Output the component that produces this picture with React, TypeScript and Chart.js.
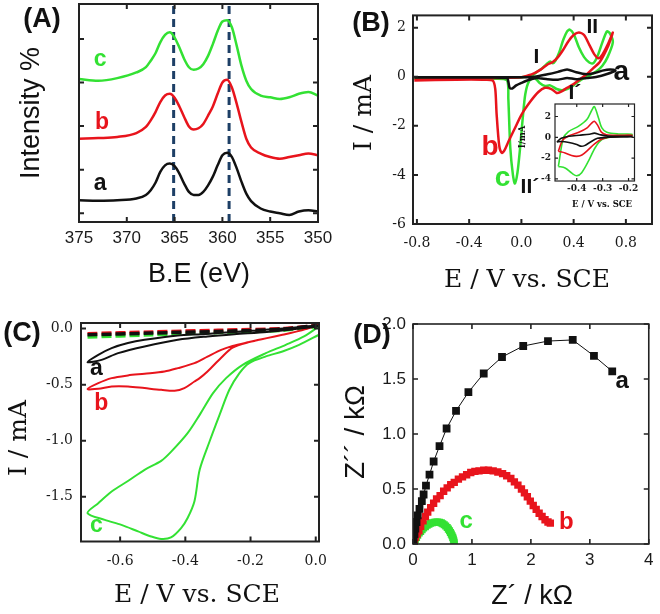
import React, { useEffect, useRef } from "react";
import { Chart, registerables } from "chart.js";
Chart.register(...registerables);

const SANS = 'Arial, "Liberation Sans", Helvetica, sans-serif';
const SERIF = '"DejaVu Serif", "Liberation Serif", serif';
const GREEN = "#33e133";
const RED = "#e8141c";
const BLACK = "#111111";
const NAVY = "#1d3f66";

// ---------- Panel A : XPS ----------
const xpsBE = [375, 373, 371, 369, 368, 367.5, 367, 366.5, 366, 365.5, 365, 364.5, 364, 363.5, 363, 362.5, 362, 361.5, 361, 360.5, 360, 359.5, 359, 358.5, 358, 357.5, 357, 356, 355, 354, 353, 352, 351, 350];
const xpsA = [3.0, 2.9, 3.0, 3.4, 4.2, 5.3, 7.0, 9.5, 11.0, 11.4, 10.8, 9.1, 6.8, 4.9, 4.2, 4.2, 4.9, 6.4, 8.4, 11.0, 13.3, 13.9, 12.9, 10.3, 7.2, 4.5, 2.8, 1.1, 0.4, 0.0, -0.4, 0.4, 0.7, 0.4];
const xpsB = [17.1, 17.25, 17.5, 18.4, 19.8, 21.3, 23.2, 25.5, 27.0, 27.4, 26.5, 24.5, 22.1, 19.9, 19.2, 19.5, 20.5, 22.4, 24.5, 27.4, 30.0, 30.6, 28.8, 25.1, 20.9, 17.1, 15.1, 13.7, 12.9, 12.5, 12.9, 13.3, 13.7, 13.3];
const xpsC = [30.8, 30.4, 31.0, 32.3, 33.5, 35.0, 36.7, 39.2, 40.9, 41.5, 40.3, 38.0, 35.4, 33.5, 32.9, 33.2, 34.2, 36.1, 38.8, 41.8, 44.0, 44.3, 42.6, 38.4, 33.8, 30.4, 28.5, 27.0, 26.6, 26.2, 26.6, 27.4, 27.8, 27.0];
const xpsPeakBE = [365.1, 359.3];
const xpsXTicks = [375, 370, 365, 360, 355, 350];
const xpsYTicks = [0, 10, 20, 30, 40];

// ---------- Panel B : CV ----------
const cvE_a = [-0.82, -0.3, 0.0, 0.1, 0.2, 0.28, 0.35, 0.42, 0.5, 0.56, 0.62, 0.68, 0.72, 0.65, 0.58, 0.5, 0.42, 0.35, 0.28, 0.2, 0.12, 0.06, 0.0, -0.04, -0.07, -0.09, -0.1, -0.11, -0.3, -0.82];
const cvI_a = [-0.02, -0.02, -0.02, 0.0, 0.1, 0.2, 0.3, 0.18, 0.1, 0.15, 0.25, 0.3, 0.25, 0.1, 0.0, -0.05, -0.1, -0.05, -0.12, -0.1, -0.05, -0.12, -0.25, -0.35, -0.48, -0.45, -0.2, -0.05, -0.03, -0.03];
const cvE_b = [-0.82, -0.5, -0.2, 0.0, 0.05, 0.1, 0.15, 0.2, 0.24, 0.28, 0.32, 0.36, 0.4, 0.44, 0.48, 0.52, 0.56, 0.59, 0.62, 0.66, 0.7, 0.66, 0.6, 0.55, 0.5, 0.45, 0.4, 0.35, 0.3, 0.27, 0.23, 0.18, 0.13, 0.07, 0.0, -0.05, -0.1, -0.13, -0.15, -0.17, -0.19, -0.2, -0.22, -0.3, -0.5, -0.82];
const cvI_b = [-0.12, -0.08, -0.05, -0.02, 0.05, 0.15, 0.3, 0.5, 0.6, 0.8, 1.1, 1.45, 1.7, 1.8, 1.7, 1.3, 0.9, 0.75, 0.9, 1.3, 1.8, 1.2, 0.6, 0.35, 0.1, -0.1, -0.3, -0.45, -0.62, -0.66, -0.5, -0.45, -0.62, -1.0, -1.55, -2.1, -2.65, -3.0, -3.1, -2.8, -1.5, -0.5, -0.15, -0.12, -0.12, -0.15];
const cvE_c = [-0.82, -0.5, -0.2, 0.0, 0.08, 0.12, 0.16, 0.2, 0.22, 0.24, 0.26, 0.29, 0.32, 0.35, 0.37, 0.4, 0.44, 0.48, 0.52, 0.55, 0.58, 0.62, 0.655, 0.68, 0.7, 0.66, 0.62, 0.57, 0.5, 0.45, 0.4, 0.35, 0.31, 0.27, 0.22, 0.18, 0.14, 0.1, 0.06, 0.03, 0.01, -0.01, -0.03, -0.05, -0.065, -0.085, -0.1, -0.11, -0.2, -0.5, -0.82];
const cvI_c = [-0.05, -0.04, -0.03, -0.02, 0.05, 0.2, 0.35, 0.55, 0.62, 0.55, 0.65, 1.0, 1.5, 1.85, 1.92, 1.75, 1.2, 0.8, 0.58, 0.55, 0.8, 1.4, 1.85, 1.75, 1.4, 0.8, 0.45, 0.2, 0.0, -0.15, -0.35, -0.5, -0.55, -0.5, -0.35, -0.38, -0.25, -0.05, -0.17, -0.7, -1.7, -2.9, -3.9, -4.35, -4.0, -2.9, -0.9, -0.15, -0.08, -0.06, -0.08];
const cvXTicks = [-0.8, -0.4, 0, 0.4, 0.8];
const cvYTicks = [2, 0, -2, -4, -6];

// inset of B
const inE_a = [-0.477, -0.46, -0.43, -0.39, -0.35, -0.332, -0.31, -0.28, -0.2, -0.187, -0.187, -0.28, -0.32, -0.35, -0.37, -0.385, -0.4, -0.43, -0.46, -0.477];
const inI_a = [-0.45, -0.1, 0.1, 0.2, 0.3, 0.4, 0.25, 0.12, 0.1, 0.1, 0.05, 0.0, -0.1, -0.5, -0.8, -0.85, -0.7, -0.5, -0.4, -0.45];
const inE_b = [-0.471, -0.455, -0.43, -0.39, -0.36, -0.345, -0.332, -0.318, -0.305, -0.285, -0.24, -0.187, -0.187, -0.26, -0.3, -0.33, -0.36, -0.38, -0.4, -0.42, -0.445, -0.471];
const inI_b = [-1.35, -0.3, 0.15, 0.5, 0.9, 1.3, 1.54, 1.1, 0.5, 0.25, 0.2, 0.2, 0.15, 0.05, -0.15, -0.6, -1.3, -1.7, -1.83, -1.75, -1.5, -1.35];
const inE_c = [-0.471, -0.452, -0.432, -0.394, -0.361, -0.342, -0.332, -0.316, -0.303, -0.284, -0.239, -0.187, -0.187, -0.264, -0.303, -0.329, -0.355, -0.381, -0.4, -0.419, -0.445, -0.471];
const inI_c = [-2.8, -0.1, 0.55, 1.05, 1.7, 2.6, 2.95, 1.85, 0.9, 0.48, 0.32, 0.3, 0.2, 0.03, -0.23, -1.0, -2.3, -3.4, -3.7, -3.45, -2.95, -2.8];
const inXTicks = [-0.4, -0.3, -0.2];
const inYTicks = [2, 0, -2, -4];

// ---------- Panel C : CV in O2 ----------
const orrE_a = [0.01, -0.1, -0.2, -0.3, -0.35, -0.423, -0.525, -0.576, -0.626, -0.667, -0.7, -0.657, -0.606, -0.525, -0.423, -0.332, -0.25, -0.15, -0.05, 0.01];
const orrI_a = [0.03, 0.0, -0.02, -0.04, -0.05, -0.061, -0.1, -0.129, -0.174, -0.234, -0.3, -0.279, -0.219, -0.159, -0.1, -0.07, -0.05, -0.03, 0.0, 0.02];
const orrE_b = [0.01, -0.05, -0.102, -0.15, -0.204, -0.255, -0.29, -0.332, -0.356, -0.372, -0.403, -0.433, -0.474, -0.525, -0.576, -0.626, -0.667, -0.7, -0.667, -0.626, -0.576, -0.525, -0.464, -0.423, -0.372, -0.332, -0.29, -0.255, -0.204, -0.15, -0.102, -0.05, 0.01];
const orrI_b = [0.034, -0.02, -0.055, -0.085, -0.12, -0.17, -0.26, -0.383, -0.442, -0.472, -0.531, -0.555, -0.546, -0.531, -0.516, -0.516, -0.537, -0.54, -0.487, -0.442, -0.418, -0.403, -0.383, -0.353, -0.308, -0.25, -0.19, -0.155, -0.12, -0.085, -0.055, -0.02, 0.034];
const orrE_c = [0.01, -0.051, -0.102, -0.153, -0.204, -0.234, -0.265, -0.295, -0.326, -0.356, -0.372, -0.393, -0.413, -0.444, -0.474, -0.505, -0.545, -0.596, -0.647, -0.7, -0.667, -0.626, -0.576, -0.525, -0.474, -0.444, -0.393, -0.356, -0.315, -0.275, -0.224, -0.153, -0.092, -0.036, 0.01];
const orrI_c = [-0.055, -0.145, -0.204, -0.248, -0.308, -0.397, -0.546, -0.77, -1.01, -1.26, -1.54, -1.69, -1.78, -1.864, -1.877, -1.855, -1.81, -1.752, -1.707, -1.647, -1.558, -1.454, -1.36, -1.26, -1.18, -1.1, -0.933, -0.77, -0.576, -0.442, -0.323, -0.219, -0.145, -0.07, 0.02];
const orrE_dash = [-0.7, -0.5, -0.3, -0.1, 0.01];
const orrI_dashA = [-0.055, -0.04, -0.025, -0.005, 0.03];
const orrI_dashB = [-0.045, -0.03, -0.015, 0.0, 0.03];
const orrI_dashC = [-0.075, -0.055, -0.035, -0.015, 0.02];
const orrXTicks = [-0.6, -0.4, -0.2, 0];
const orrYTicks = [0, -0.5, -1.0, -1.5];

// ---------- Panel D : Nyquist ----------
const eisRe_a = [0.0, 0.01, 0.025, 0.04, 0.06, 0.08, 0.11, 0.15, 0.18, 0.22, 0.28, 0.35, 0.45, 0.57, 0.73, 0.94, 1.2, 1.51, 1.87, 2.29, 2.71, 3.07, 3.38];
const eisIm_a = [0.0, 0.04, 0.09, 0.14, 0.2, 0.26, 0.32, 0.39, 0.45, 0.53, 0.63, 0.75, 0.89, 1.05, 1.21, 1.38, 1.55, 1.7, 1.8, 1.845, 1.855, 1.71, 1.57];
const eisRe_b = [0.0, 0.02, 0.04, 0.07, 0.1, 0.13, 0.17, 0.21, 0.25, 0.3, 0.35, 0.4, 0.46, 0.52, 0.58, 0.64, 0.7, 0.77, 0.84, 0.91, 0.98, 1.05, 1.12, 1.2, 1.28, 1.36, 1.44, 1.52, 1.59, 1.66, 1.72, 1.78, 1.84, 1.89, 1.94, 1.99, 2.04, 2.09, 2.14, 2.19, 2.24, 2.29, 2.33];
const eisIm_b = [0.0, 0.03, 0.06, 0.09, 0.12, 0.16, 0.21, 0.25, 0.29, 0.33, 0.37, 0.41, 0.44, 0.48, 0.51, 0.54, 0.56, 0.59, 0.61, 0.63, 0.65, 0.66, 0.665, 0.67, 0.67, 0.665, 0.655, 0.64, 0.62, 0.595, 0.565, 0.535, 0.5, 0.465, 0.43, 0.39, 0.35, 0.315, 0.28, 0.25, 0.22, 0.2, 0.19];
const eisRe_c = [0.0, 0.02, 0.04, 0.06, 0.08, 0.105, 0.13, 0.155, 0.18, 0.21, 0.24, 0.27, 0.3, 0.33, 0.36, 0.39, 0.42, 0.45, 0.48, 0.505, 0.53, 0.555, 0.58, 0.6, 0.62, 0.635, 0.65, 0.663, 0.675, 0.684, 0.692, 0.697, 0.7];
const eisIm_c = [0.0, 0.02, 0.04, 0.06, 0.08, 0.1, 0.115, 0.13, 0.145, 0.158, 0.17, 0.18, 0.188, 0.193, 0.197, 0.199, 0.2, 0.197, 0.192, 0.184, 0.175, 0.163, 0.15, 0.135, 0.12, 0.105, 0.09, 0.075, 0.06, 0.045, 0.03, 0.015, 0.0];
const eisXTicks = [0, 1, 2, 3, 4];
const eisYTicks = [0, 0.5, 1.0, 1.5, 2.0];

// ---------- helpers ----------
const pts = (xs: number[], ys: number[]) => xs.map((x, i) => ({ x, y: ys[i] }));

function scale(o: any) {
  return {
    type: "linear",
    min: o.min,
    max: o.max,
    reverse: !!o.reverse,
    afterBuildTicks: (s: any) => {
      s.ticks = o.ticks.map((v: number) => ({ value: v }));
    },
    afterFit: (s: any) => {
      if (o.h !== undefined) s.height = o.h;
      else s.width = o.w;
    },
    grid: { display: false, drawTicks: false },
    border: { display: false },
    ticks: {
      display: o.show !== false,
      padding: o.pad,
      color: "#1a1a1a",
      font: { family: o.family, size: o.size, weight: o.bold ? "bold" : "normal" },
      callback: (v: number) => o.fmt(v),
      autoSkip: false,
      maxRotation: 0,
      minRotation: 0,
    },
  };
}

type Lbl = { text: string; x: number; y: number; color: string; size: number };

function framePlugin(o: { len: number; width: number; labels: Lbl[]; fill?: boolean }) {
  return {
    id: "frame",
    beforeDraw(chart: any) {
      if (!o.fill) return;
      const a = chart.chartArea;
      const ctx = chart.ctx;
      ctx.save();
      ctx.fillStyle = "#ffffff";
      ctx.fillRect(a.left, a.top, a.right - a.left, a.bottom - a.top);
      ctx.restore();
    },
    afterDraw(chart: any) {
      const { ctx, chartArea: a } = chart;
      const sx = chart.scales.x;
      const sy = chart.scales.y;
      ctx.save();
      ctx.strokeStyle = "#222";
      ctx.lineWidth = o.width;
      ctx.beginPath();
      for (const t of sx.ticks) {
        const p = sx.getPixelForValue(t.value);
        ctx.moveTo(p, a.bottom);
        ctx.lineTo(p, a.bottom - o.len);
        ctx.moveTo(p, a.top);
        ctx.lineTo(p, a.top + o.len);
      }
      for (const t of sy.ticks) {
        const p = sy.getPixelForValue(t.value);
        ctx.moveTo(a.left, p);
        ctx.lineTo(a.left + o.len, p);
        ctx.moveTo(a.right, p);
        ctx.lineTo(a.right - o.len, p);
      }
      ctx.stroke();
      ctx.strokeRect(a.left, a.top, a.right - a.left, a.bottom - a.top);
      ctx.textAlign = "center";
      ctx.textBaseline = "middle";
      for (const l of o.labels) {
        ctx.font = `bold ${l.size}px ${SANS}`;
        ctx.fillStyle = l.color;
        ctx.fillText(l.text, sx.getPixelForValue(l.x), sy.getPixelForValue(l.y));
      }
      ctx.restore();
    },
  };
}

const line = (xs: number[], ys: number[], color: string, width: number, extra: any = {}) => ({
  data: pts(xs, ys),
  borderColor: color,
  backgroundColor: color,
  borderWidth: width,
  pointRadius: 0,
  tension: 0.3,
  fill: false,
  ...extra,
});

function cfg(datasets: any[], x: any, y: any, padding: any, plugin: any) {
  return {
    type: "line",
    data: { datasets },
    options: {
      responsive: false,
      animation: false,
      devicePixelRatio: 1,
      events: [],
      layout: { padding },
      plugins: { legend: { display: false }, tooltip: { enabled: false } },
      scales: { x, y },
    },
    plugins: [plugin],
  };
}

const f0 = (v: number) => String(Math.round(v));
const f1 = (v: number) => v.toFixed(1);

function configA() {
  const ds = [
    line(xpsBE, xpsA, BLACK, 2.5, { cubicInterpolationMode: "monotone" }),
    line(xpsBE, xpsB, RED, 2.5, { cubicInterpolationMode: "monotone" }),
    line(xpsBE, xpsC, GREEN, 2.5, { cubicInterpolationMode: "monotone" }),
    ...xpsPeakBE.map((be) =>
      line([be, be], [-2, 48], NAVY, 3, { borderDash: [8, 5], tension: 0 })
    ),
  ];
  return cfg(
    ds,
    scale({ min: 350, max: 375, reverse: true, ticks: xpsXTicks, fmt: f0, family: SANS, size: 17, pad: 6, h: 78 }),
    scale({ min: -2, max: 48, ticks: xpsYTicks, fmt: f0, family: SANS, size: 17, pad: 6, w: 79, show: false }),
    { left: 0, right: 342, top: 4, bottom: 314 },
    framePlugin({
      len: 5,
      width: 2,
      labels: [
        { text: "c", x: 372.8, y: 35.3, color: GREEN, size: 23 },
        { text: "b", x: 372.6, y: 20.8, color: RED, size: 23 },
        { text: "a", x: 372.8, y: 6.8, color: BLACK, size: 23 },
      ],
    })
  );
}

function configB() {
  const ds = [
    line(cvE_a, cvI_a, BLACK, 2.5, { tension: 0.25 }),
    line(cvE_b, cvI_b, RED, 2.5, { tension: 0.25 }),
    line(cvE_c, cvI_c, GREEN, 2.5, { tension: 0.25 }),
  ];
  return cfg(
    ds,
    scale({ min: -0.83, max: 1.0, ticks: cvXTicks, fmt: f1, family: SERIF, size: 14, pad: 11, h: 40 }),
    scale({ min: -6, max: 2.5, ticks: cvYTicks, fmt: f0, family: SERIF, size: 14, pad: 7, w: 60 }),
    { left: 353, right: 8, top: 4, bottom: 350 },
    framePlugin({
      len: 5,
      width: 2,
      labels: [
        { text: "I", x: 0.115, y: 0.8, color: BLACK, size: 21 },
        { text: "II", x: 0.543, y: 2.03, color: BLACK, size: 21 },
        { text: "I\u00B4", x: 0.41, y: -0.66, color: BLACK, size: 21 },
        { text: "II\u00B4", x: 0.065, y: -4.49, color: BLACK, size: 21 },
        { text: "b", x: -0.24, y: -2.88, color: RED, size: 28 },
        { text: "c", x: -0.145, y: -4.15, color: GREEN, size: 28 },
        { text: "a", x: 0.765, y: 0.2, color: BLACK, size: 28 },
      ],
    })
  );
}

function configInset() {
  const ds = [
    line(inE_a, inI_a, BLACK, 1.6),
    line(inE_b, inI_b, RED, 1.6),
    line(inE_c, inI_c, GREEN, 1.6),
  ];
  return cfg(
    ds,
    scale({ min: -0.484, max: -0.177, ticks: inXTicks, fmt: f1, family: SERIF, size: 9, bold: true, pad: 2, h: 16 }),
    scale({ min: -4.2, max: 3.2, ticks: inYTicks, fmt: f0, family: SERIF, size: 9, bold: true, pad: 4, w: 30 }),
    { left: 525, right: 25.5, top: 104, bottom: 417 },
    framePlugin({ len: 3, width: 1.2, labels: [], fill: true })
  );
}

function configC() {
  const ds = [
    line(orrE_a, orrI_a, BLACK, 2),
    line(orrE_b, orrI_b, RED, 2),
    line(orrE_c, orrI_c, GREEN, 2),
    line(orrE_dash, orrI_dashA, BLACK, 3.5, { borderDash: [10, 4], tension: 0.2 }),
    line(orrE_dash, orrI_dashB, RED, 3.5, { borderDash: [10, 4], tension: 0.2 }),
    line(orrE_dash, orrI_dashC, GREEN, 3.5, { borderDash: [10, 4], tension: 0.2 }),
  ];
  return cfg(
    ds,
    scale({ min: -0.72, max: 0.01, ticks: orrXTicks, fmt: f1, family: SERIF, size: 14, pad: 11, h: 40 }),
    scale({ min: -1.9, max: 0.05, ticks: orrYTicks, fmt: f1, family: SERIF, size: 14, pad: 8, w: 60 }),
    { left: 21, right: 341, top: 323, bottom: 32.5 },
    framePlugin({
      len: 5,
      width: 2,
      labels: [
        { text: "a", x: -0.673, y: -0.36, color: BLACK, size: 23 },
        { text: "b", x: -0.658, y: -0.67, color: RED, size: 23 },
        { text: "c", x: -0.673, y: -1.76, color: GREEN, size: 23 },
      ],
    })
  );
}

function configD() {
  const ds = [
    line(eisRe_a, eisIm_a, BLACK, 1, {
      tension: 0,
      pointRadius: 5.5,
      pointStyle: "rect",
      pointBackgroundColor: BLACK,
      pointBorderColor: BLACK,
      pointBorderWidth: 0,
    }),
    line(eisRe_b, eisIm_b, RED, 1, {
      showLine: false,
      pointRadius: 5.2,
      pointStyle: "rect",
      pointBackgroundColor: RED,
      pointBorderColor: RED,
      pointBorderWidth: 0,
    }),
    line(eisRe_c, eisIm_c, GREEN, 1, {
      showLine: false,
      pointRadius: 5,
      pointStyle: "rect",
      pointBackgroundColor: GREEN,
      pointBorderColor: GREEN,
      pointBorderWidth: 0,
    }),
  ];
  return cfg(
    ds,
    scale({ min: 0, max: 4, ticks: eisXTicks, fmt: f0, family: SANS, size: 17, pad: 6.5, h: 40 }),
    scale({ min: 0, max: 2, ticks: eisYTicks, fmt: f1, family: SANS, size: 17, pad: 7, w: 60 }),
    { left: 353, right: 8, top: 324, bottom: 30 },
    framePlugin({
      len: 5,
      width: 1.6,
      labels: [
        { text: "a", x: 3.55, y: 1.48, color: BLACK, size: 24 },
        { text: "b", x: 2.6, y: 0.2, color: RED, size: 24 },
        { text: "c", x: 0.9, y: 0.21, color: GREEN, size: 24 },
      ],
    })
  );
}

type Txt = { t: string; x: number; y: number; size: number; font: string; bold?: boolean; rot?: boolean };
const TEXTS: Txt[] = [
  { t: "(A)", x: 42, y: 18, size: 27, font: SANS, bold: true },
  { t: "Intensity %", x: 30, y: 113, size: 27, font: SANS, rot: true },
  { t: "B.E (eV)", x: 199, y: 273, size: 27, font: SANS },
  { t: "(B)", x: 371, y: 22, size: 27, font: SANS, bold: true },
  { t: "I / mA", x: 362, y: 113, size: 25, font: SERIF, rot: true },
  { t: "E / V vs. SCE", x: 527, y: 278, size: 25, font: SERIF },
  { t: "I/mA", x: 522, y: 137, size: 8.5, font: SERIF, bold: true, rot: true },
  { t: "E / V vs. SCE", x: 602, y: 204, size: 8.5, font: SERIF, bold: true },
  { t: "(C)", x: 22, y: 332, size: 27, font: SANS, bold: true },
  { t: "I / mA", x: 17, y: 438, size: 25, font: SERIF, rot: true },
  { t: "E / V vs. SCE", x: 197, y: 593, size: 25, font: SERIF },
  { t: "(D)", x: 372, y: 334, size: 27, font: SANS, bold: true },
  { t: "Z\u00B4\u00B4 / k\u03A9", x: 355, y: 432, size: 28, font: SANS, rot: true },
  { t: "Z\u00B4 / k\u03A9", x: 532, y: 595, size: 27, font: SANS },
];

export default function App() {
  const rA = useRef<HTMLCanvasElement>(null);
  const rB = useRef<HTMLCanvasElement>(null);
  const rI = useRef<HTMLCanvasElement>(null);
  const rC = useRef<HTMLCanvasElement>(null);
  const rD = useRef<HTMLCanvasElement>(null);

  useEffect(() => {
    document.body.style.margin = "0";
    const charts = [
      new Chart(rA.current as any, configA() as any),
      new Chart(rB.current as any, configB() as any),
      new Chart(rC.current as any, configC() as any),
      new Chart(rD.current as any, configD() as any),
      new Chart(rI.current as any, configInset() as any),
    ];
    return () => charts.forEach((c) => c.destroy());
  }, []);

  const cv: React.CSSProperties = { position: "absolute", left: 0, top: 0, width: 660, height: 614 };
  return (
    <div style={{ position: "absolute", left: 0, top: 0, width: 660, height: 614, background: "#fff", overflow: "hidden" }}>
      <canvas ref={rA} width={660} height={614} style={cv} />
      <canvas ref={rB} width={660} height={614} style={cv} />
      <canvas ref={rC} width={660} height={614} style={cv} />
      <canvas ref={rD} width={660} height={614} style={cv} />
      <canvas ref={rI} width={660} height={614} style={cv} />
      {TEXTS.map((d, i) => (
        <div
          key={i}
          style={{
            position: "absolute",
            left: d.x,
            top: d.y,
            transform: `translate(-50%, -50%)${d.rot ? " rotate(-90deg)" : ""}`,
            fontFamily: d.font,
            fontSize: d.size,
            fontWeight: d.bold ? "bold" : "normal",
            color: "#111",
            whiteSpace: "nowrap",
            lineHeight: 1,
          }}
        >
          {d.t}
        </div>
      ))}
    </div>
  );
}
